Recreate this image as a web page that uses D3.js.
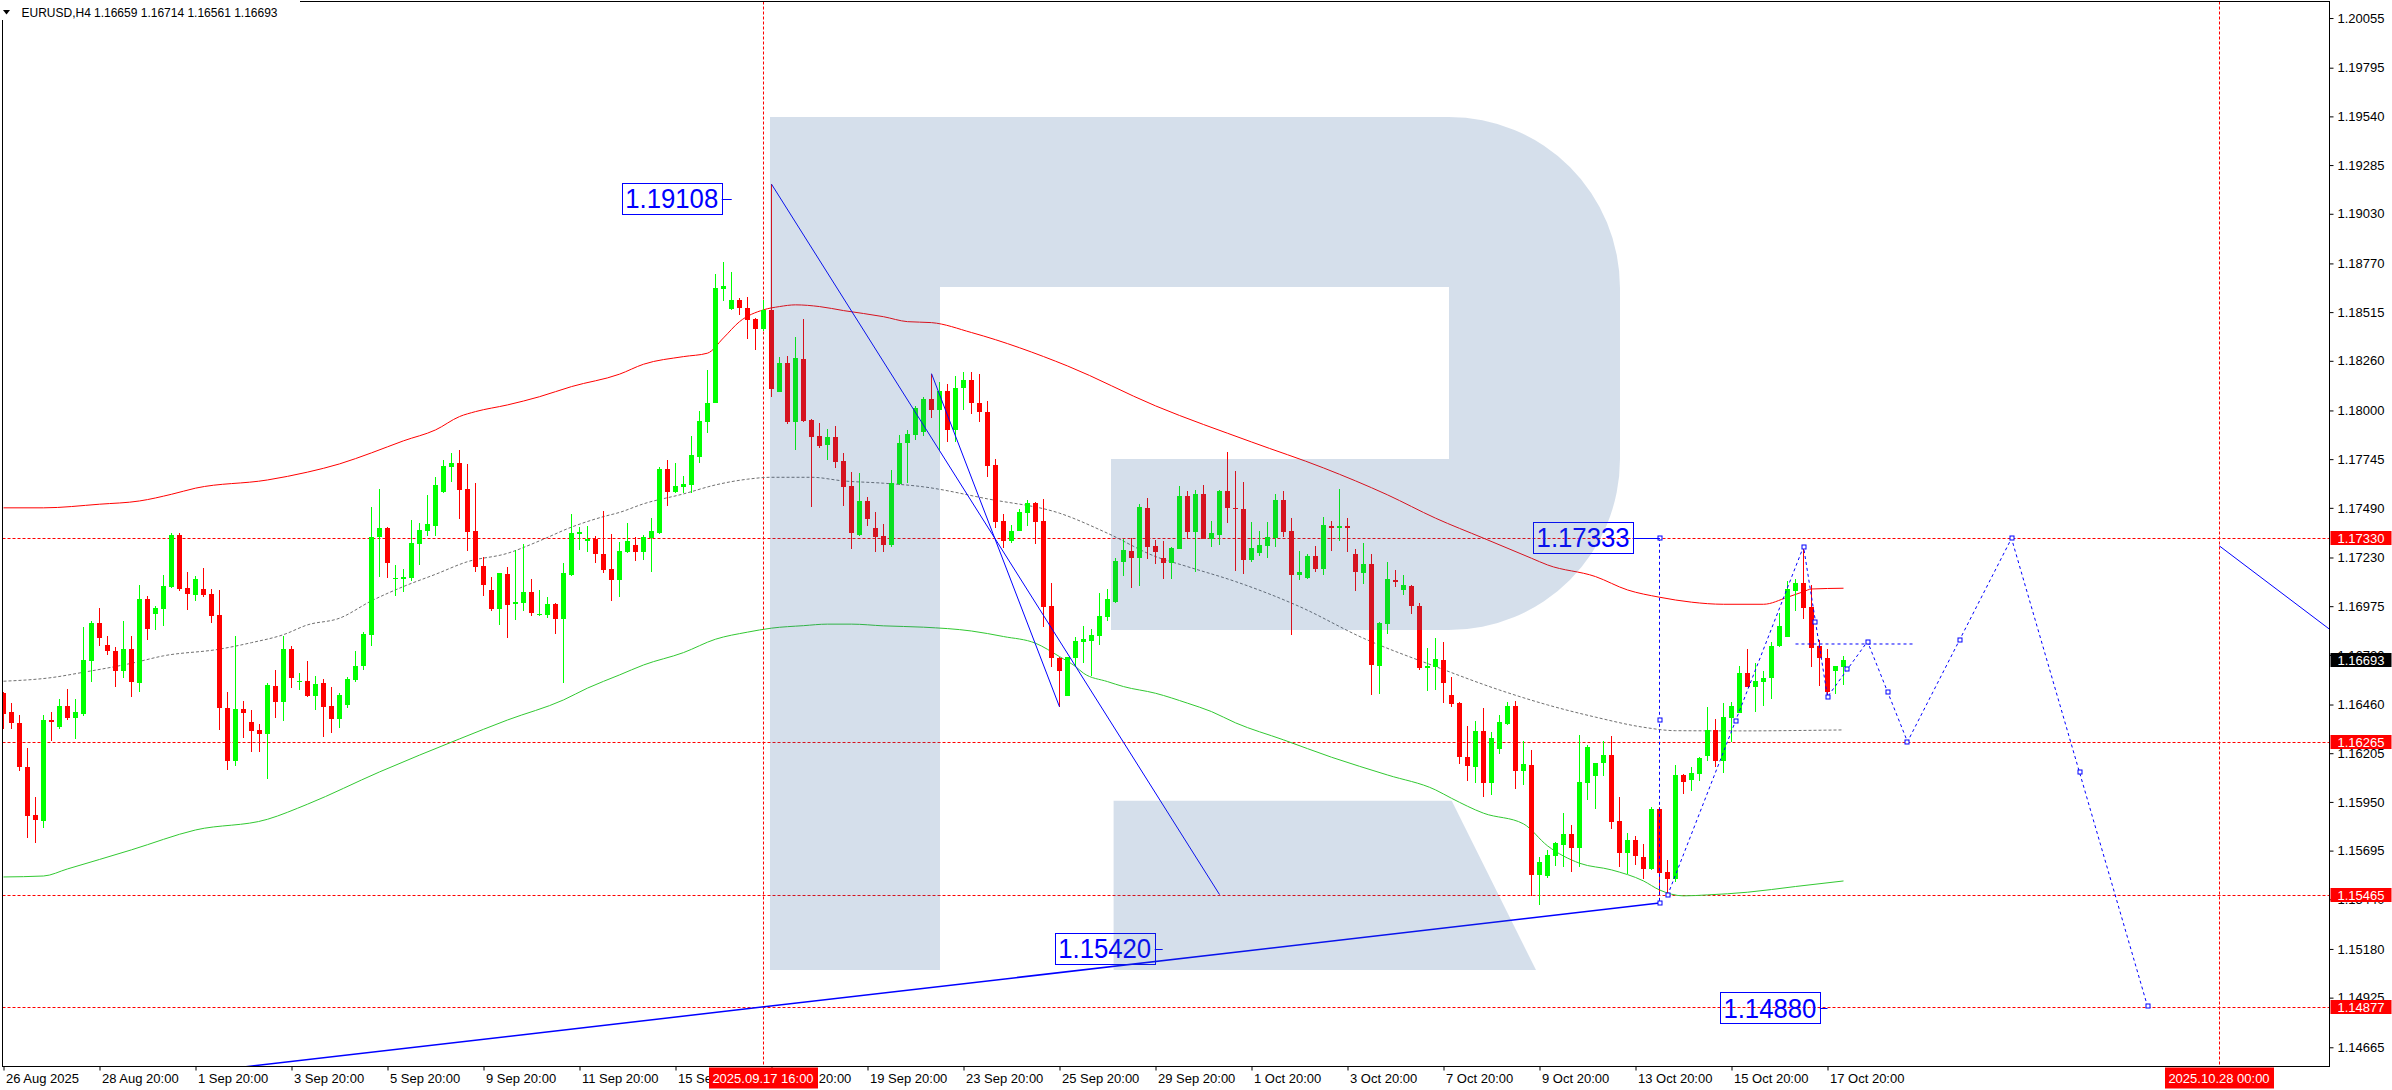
<!DOCTYPE html>
<html><head><meta charset="utf-8">
<script src="https://cdn.jsdelivr.net/npm/d3@7/dist/d3.min.js"></script>
<style>body{margin:0;background:#fff;}svg{display:block;}</style>
</head><body>
<svg id="c" width="2392" height="1090"></svg>
<script>
// ---------- DATA ----------
const opens=[1.16519,1.16419,1.16361,1.16131,1.15881,1.15852,1.16379,1.16342,1.16452,1.16389,1.16412,1.16688,1.16885,1.16772,1.16739,1.16637,1.16749,1.16574,1.17013,1.16936,1.16962,1.17076,1.17346,1.17070,1.17035,1.17065,1.17039,1.16929,1.16442,1.16164,1.16437,1.16368,1.16327,1.16306,1.16557,1.16475,1.16751,1.16576,1.16583,1.16506,1.16571,1.16452,1.16384,1.16457,1.16588,1.16663,1.16824,1.17339,1.17384,1.17117,1.17117,1.17124,1.17302,1.17370,1.17397,1.17575,1.17704,1.17725,1.17589,1.17369,1.17185,1.17060,1.16960,1.17143,1.16985,1.16993,1.17051,1.16929,1.16929,1.16986,1.16908,1.17138,1.17353,1.17318,1.17327,1.17248,1.17170,1.17112,1.17260,1.17295,1.17260,1.17333,1.17359,1.17693,1.17574,1.17600,1.17609,1.17758,1.17941,1.18040,1.18638,1.18529,1.18578,1.18536,1.18479,1.18428,1.18526,1.18098,1.18246,1.17941,1.18267,1.17950,1.17866,1.17819,1.17859,1.17735,1.17604,1.17347,1.17525,1.17387,1.17342,1.17295,1.17613,1.17827,1.17871,1.17885,1.18058,1.18000,1.18100,1.17900,1.18120,1.18160,1.18040,1.17990,1.17714,1.17421,1.17318,1.17370,1.17465,1.17517,1.17421,1.16976,1.16705,1.16504,1.16705,1.16789,1.16792,1.16820,1.16920,1.16995,1.17208,1.17264,1.17229,1.17487,1.17290,1.17225,1.17199,1.17274,1.17552,1.17365,1.17562,1.17327,1.17348,1.17578,1.17487,1.17484,1.17217,1.17255,1.17290,1.17334,1.17531,1.17368,1.17138,1.17121,1.17238,1.17169,1.17395,1.17386,1.17395,1.17248,1.17150,1.17196,1.16661,1.16881,1.17112,1.17059,1.17080,1.16976,1.16653,1.16658,1.16693,1.16509,1.16469,1.16186,1.16134,1.16321,1.16047,1.16227,1.16358,1.16452,1.16113,1.16143,1.15567,1.15561,1.15669,1.15725,1.15782,1.15711,1.16051,1.16088,1.16152,1.16196,1.15850,1.15681,1.15751,1.15664,1.15599,1.15913,1.15585,1.15547,1.16090,1.16065,1.16097,1.16191,1.16324,1.16166,1.16392,1.16418,1.16624,1.16554,1.16580,1.16598,1.16764,1.16811,1.17057,1.17099,1.16970,1.16764,1.16706,1.16638,1.16659];
const highs=[1.16527,1.16466,1.16405,1.16231,1.15974,1.16405,1.16419,1.16489,1.16540,1.16489,1.16866,1.16896,1.16966,1.16819,1.16759,1.16897,1.16819,1.17086,1.17028,1.16976,1.17138,1.17357,1.17357,1.17152,1.17131,1.17173,1.17065,1.17060,1.16526,1.16819,1.16478,1.16431,1.16356,1.16574,1.16641,1.16819,1.16766,1.16627,1.16688,1.16611,1.16592,1.16553,1.16518,1.16606,1.16740,1.16841,1.17496,1.17590,1.17390,1.17191,1.17170,1.17426,1.17409,1.17557,1.17650,1.17741,1.17777,1.17793,1.17720,1.17620,1.17234,1.17129,1.17150,1.17178,1.17269,1.17301,1.17117,1.17060,1.17021,1.16990,1.17203,1.17458,1.17388,1.17395,1.17343,1.17473,1.17353,1.17313,1.17412,1.17335,1.17347,1.17435,1.17705,1.17740,1.17723,1.17656,1.17866,1.17999,1.18212,1.18714,1.18779,1.18727,1.18590,1.18594,1.18482,1.18578,1.19185,1.18282,1.18285,1.18386,1.18479,1.17955,1.17932,1.17901,1.17918,1.17775,1.17679,1.17670,1.17548,1.17466,1.17405,1.17688,1.17871,1.17897,1.18023,1.18072,1.18193,1.18150,1.18140,1.18180,1.18200,1.18200,1.18190,1.18050,1.17746,1.17456,1.17400,1.17482,1.17531,1.17522,1.17536,1.17094,1.16710,1.16710,1.16812,1.16871,1.16854,1.17046,1.17065,1.17229,1.17327,1.17330,1.17510,1.17540,1.17321,1.17316,1.17287,1.17604,1.17578,1.17583,1.17610,1.17421,1.17583,1.17781,1.17683,1.17623,1.17414,1.17368,1.17414,1.17562,1.17578,1.17435,1.17264,1.17248,1.17290,1.17444,1.17423,1.17588,1.17438,1.17274,1.17307,1.17248,1.16894,1.17208,1.17164,1.17138,1.17084,1.16990,1.16754,1.16806,1.16785,1.16602,1.16473,1.16347,1.16375,1.16440,1.16318,1.16405,1.16475,1.16480,1.16268,1.16221,1.15663,1.15698,1.15742,1.15891,1.15829,1.16301,1.16248,1.16156,1.16269,1.16296,1.15978,1.15786,1.15774,1.15730,1.15925,1.15925,1.15646,1.16144,1.16097,1.16131,1.16184,1.16449,1.16383,1.16470,1.16475,1.16664,1.16751,1.16676,1.16636,1.16786,1.16938,1.17109,1.17116,1.17287,1.17087,1.16799,1.16751,1.16664,1.16714];
const lows=[1.16330,1.16330,1.16114,1.15763,1.15733,1.15815,1.16271,1.16333,1.16379,1.16281,1.16400,1.16580,1.16768,1.16721,1.16554,1.16599,1.16501,1.16527,1.16798,1.16850,1.16873,1.17072,1.17056,1.16957,1.17004,1.17025,1.16887,1.16328,1.16119,1.16140,1.16286,1.16213,1.16213,1.16070,1.16391,1.16375,1.16548,1.16536,1.16498,1.16431,1.16292,1.16309,1.16339,1.16443,1.16580,1.16641,1.16766,1.17126,1.17124,1.17030,1.17051,1.17107,1.17191,1.17343,1.17343,1.17570,1.17627,1.17431,1.17266,1.17152,1.17030,1.16951,1.16879,1.16810,1.16903,1.16951,1.16925,1.16925,1.16915,1.16829,1.16571,1.17133,1.17269,1.17261,1.17203,1.17147,1.17004,1.17025,1.17255,1.17213,1.17216,1.17155,1.17351,1.17501,1.17566,1.17566,1.17569,1.17726,1.17880,1.18037,1.18573,1.18526,1.18500,1.18372,1.18316,1.18418,1.18072,1.18095,1.17929,1.17793,1.17941,1.17492,1.17801,1.17740,1.17697,1.17501,1.17277,1.17344,1.17396,1.17257,1.17257,1.17286,1.17609,1.17618,1.17845,1.17866,1.17960,1.17793,1.17837,1.17837,1.18000,1.17980,1.17941,1.17653,1.17383,1.17278,1.17307,1.17369,1.17395,1.17300,1.16867,1.16658,1.16448,1.16504,1.16658,1.16679,1.16609,1.16771,1.16897,1.16990,1.17135,1.17072,1.17082,1.17220,1.17194,1.17117,1.17115,1.17273,1.17325,1.17156,1.17327,1.17287,1.17295,1.17412,1.17160,1.17143,1.17208,1.17238,1.17229,1.17286,1.17339,1.16824,1.17112,1.17117,1.17155,1.17138,1.17264,1.17318,1.17260,1.17054,1.17091,1.16509,1.16515,1.16829,1.17077,1.17033,1.16934,1.16640,1.16530,1.16536,1.16469,1.16448,1.16148,1.16061,1.16047,1.15977,1.15986,1.16200,1.16352,1.16017,1.16038,1.15457,1.15409,1.15554,1.15616,1.15611,1.15585,1.15611,1.15960,1.15912,1.16088,1.15809,1.15611,1.15571,1.15620,1.15545,1.15594,1.15458,1.15463,1.15533,1.15992,1.16009,1.16062,1.16166,1.16131,1.16100,1.16266,1.16414,1.16551,1.16420,1.16452,1.16489,1.16760,1.16811,1.16952,1.16908,1.16659,1.16559,1.16510,1.16514,1.16561];
const closes=[1.16410,1.16361,1.16134,1.15878,1.15855,1.16379,1.16370,1.16452,1.16389,1.16421,1.16693,1.16885,1.16810,1.16742,1.16637,1.16749,1.16580,1.17013,1.16856,1.16966,1.17081,1.17346,1.17065,1.17041,1.17117,1.17035,1.16925,1.16444,1.16164,1.16437,1.16417,1.16323,1.16306,1.16562,1.16475,1.16751,1.16601,1.16583,1.16505,1.16567,1.16449,1.16384,1.16510,1.16594,1.16662,1.16829,1.17339,1.17384,1.17203,1.17123,1.17126,1.17306,1.17374,1.17405,1.17610,1.17709,1.17725,1.17585,1.17365,1.17182,1.17086,1.16960,1.17147,1.16981,1.16995,1.17051,1.16941,1.16934,1.16986,1.16908,1.17150,1.17357,1.17364,1.17329,1.17248,1.17164,1.17112,1.17264,1.17318,1.17260,1.17335,1.17368,1.17693,1.17574,1.17604,1.17614,1.17766,1.17944,1.18037,1.18643,1.18652,1.18578,1.18535,1.18474,1.18428,1.18526,1.18114,1.18246,1.17941,1.18276,1.17946,1.17862,1.17815,1.17859,1.17731,1.17600,1.17356,1.17525,1.17429,1.17339,1.17295,1.17618,1.17827,1.17875,1.18011,1.18058,1.18000,1.18100,1.17900,1.18120,1.18160,1.18040,1.17990,1.17711,1.17417,1.17318,1.17369,1.17470,1.17517,1.17417,1.16972,1.16702,1.16637,1.16707,1.16792,1.16803,1.16824,1.16923,1.17012,1.17211,1.17269,1.17229,1.17493,1.17287,1.17260,1.17203,1.17278,1.17552,1.17365,1.17562,1.17327,1.17356,1.17580,1.17491,1.17482,1.17217,1.17278,1.17295,1.17335,1.17531,1.17365,1.17138,1.17155,1.17238,1.17169,1.17400,1.17386,1.17395,1.17386,1.17155,1.17196,1.16667,1.16888,1.17117,1.17103,1.17086,1.16976,1.16649,1.16661,1.16696,1.16571,1.16462,1.16183,1.16139,1.16321,1.16047,1.16286,1.16366,1.16452,1.16113,1.16148,1.15567,1.15636,1.15671,1.15733,1.15782,1.15711,1.16053,1.16240,1.16152,1.16196,1.15847,1.15681,1.15751,1.15669,1.15599,1.15913,1.15580,1.15547,1.16090,1.16056,1.16104,1.16182,1.16324,1.16166,1.16393,1.16453,1.16624,1.16554,1.16584,1.16601,1.16767,1.16872,1.17064,1.17099,1.16968,1.16758,1.16702,1.16523,1.16662,1.16693];

// indicator bands, sampled [bar, price]
const upperBand=[[0,1.17490],[5,1.17490],[12,1.17509],[17,1.17526],[21,1.17561],[24,1.17593],[33,1.17636],[38,1.17677],[42,1.17720],[46,1.17778],[50,1.17841],[54,1.17898],[57,1.17968],[59,1.17994],[63,1.18029],[67,1.18072],[71,1.18125],[77,1.18190],[80,1.18242],[85,1.18282],[88,1.18300],[90,1.18380],[92,1.18465],[95,1.18527],[97,1.18544],[99,1.18553],[102,1.18544],[105,1.18523],[110,1.18491],[113,1.18465],[116,1.18460],[121,1.18408],[133,1.18233],[144,1.18024],[156,1.17835],[165,1.17699],[173,1.17558],[179,1.17436],[185,1.17331],[191,1.17226],[193,1.17191],[199,1.17130],[203,1.17060],[207,1.17022],[211,1.16996],[215,1.16985],[220,1.16985],[223,1.17022],[225,1.17051],[226,1.17065],[230,1.17069]];
const middleBand=[[0,1.16582],[6,1.16601],[10,1.16629],[16,1.16676],[20,1.16715],[27,1.16750],[31,1.16784],[35,1.16826],[38,1.16877],[42,1.16912],[46,1.17003],[50,1.17078],[54,1.17142],[58,1.17208],[63,1.17252],[67,1.17317],[71,1.17389],[75,1.17444],[77,1.17466],[80,1.17511],[85,1.17563],[89,1.17610],[93,1.17640],[96,1.17650],[101,1.17650],[105,1.17631],[110,1.17619],[115,1.17600],[123,1.17537],[132,1.17462],[138,1.17357],[144,1.17235],[148,1.17182],[154,1.17104],[162,1.16973],[170,1.16807],[179,1.16659],[187,1.16536],[193,1.16458],[199,1.16394],[205,1.16341],[209,1.16323],[217,1.16322],[230,1.16327]];
const lowerBand=[[0,1.15557],[5,1.15562],[8,1.15599],[16,1.15699],[24,1.15803],[33,1.15859],[38,1.15938],[47,1.16107],[57,1.16280],[63,1.16379],[70,1.16484],[73,1.16546],[77,1.16615],[80,1.16667],[85,1.16732],[89,1.16802],[93,1.16839],[96,1.16860],[100,1.16873],[103,1.16881],[106,1.16881],[110,1.16872],[115,1.16865],[121,1.16845],[125,1.16816],[129,1.16781],[132,1.16711],[134,1.16659],[135,1.16624],[138,1.16580],[140,1.16554],[144,1.16519],[148,1.16467],[151,1.16423],[154,1.16364],[160,1.16275],[166,1.16184],[173,1.16091],[179,1.16013],[181,1.15969],[185,1.15891],[190,1.15835],[193,1.15720],[197,1.15629],[201,1.15594],[205,1.15536],[207,1.15489],[210,1.15458],[213,1.15463],[218,1.15477],[224,1.15507],[230,1.15536]];

const priceTicks=[1.20055,1.19795,1.19540,1.19285,1.19030,1.18770,1.18515,1.18260,1.18000,1.17745,1.17490,1.17230,1.16975,1.16720,1.16460,1.16205,1.15950,1.15695,1.15440,1.15180,1.14925,1.14665];
const dateBars=[0,12,24,36,48,60,72,84,96,108,120,132,144,156,168,180,192,204,216,228];
const dateLabels=["26 Aug 2025","28 Aug 20:00","1 Sep 20:00","3 Sep 20:00","5 Sep 20:00","9 Sep 20:00","11 Sep 20:00","15 Sep 20:00","17 Sep 20:00","19 Sep 20:00","23 Sep 20:00","25 Sep 20:00","29 Sep 20:00","1 Oct 20:00","3 Oct 20:00","7 Oct 20:00","9 Oct 20:00","13 Oct 20:00","15 Oct 20:00","17 Oct 20:00"];

const levelPrices=[1.17330,1.16265,1.15465,1.14877];
const markerBars=[95,277];
const markerLabels=["2025.09.17 16:00","2025.10.28 00:00"];
const lastPrice=1.16693;

// blue trend lines [bar, price] pairs
const trendLines=[[[96,1.19185],[152,1.15465]],[[116,1.18193],[132,1.16448]],[[277,1.17290],[290.7,1.16856]]];
const supportLine=[[29.1,1.14557],[207,1.15420]];
// forecast path
const forecastBars=[208,225,228,233,238,251,268];
const forecastPrices=[1.15460,1.17287,1.16500,1.16790,1.16265,1.17330,1.14880];
const rangeLine=[[207,1.17333],[207,1.15420]];
const flatLine=[[224,1.16777],[239,1.16777]];
// price boxes: text, bar at box right edge, bar at connector end, price
const boxTexts=["1.19108","1.17333","1.15420","1.14880"];
const boxRight=[89.78,203.7,143.9,227.05];
const boxLineEnd=[91.03,207.06,144.9,228.0];
const boxPrices=[1.19108,1.17333,1.15181,1.14870];

// ---------- DRAW ----------
const svg=d3.select('#c');
const FONT='"Liberation Sans", Arial, sans-serif';
const L=2.5,T=1.5,R=2329.5,B=1066.5;
const x=d3.scaleLinear().domain([0,290]).range([3.5,2323.5]);
const y=d3.scaleLinear().domain([1.14567,1.20139]).range([1066,2]);

svg.append('rect').attr('width',2392).attr('height',1090).attr('fill','#fff');
svg.append('defs').append('clipPath').attr('id','clip').append('rect')
  .attr('x',L).attr('y',T).attr('width',R-L).attr('height',B-T);
const g=svg.append('g').attr('clip-path','url(#clip)');

// level lines
g.selectAll('.lvl').data(levelPrices).join('line')
  .attr('x1',L).attr('x2',R).attr('y1',d=>Math.round(y(d))+0.5).attr('y2',d=>Math.round(y(d))+0.5)
  .attr('stroke','#ff0000').attr('stroke-dasharray','3,2');
g.selectAll('.vmk').data(markerBars).join('line')
  .attr('x1',d=>Math.round(x(d))-0.5).attr('x2',d=>Math.round(x(d))-0.5).attr('y1',T).attr('y2',B)
  .attr('stroke','#ff0000').attr('stroke-dasharray','3,2');

// bands
const ln=d3.line().x(d=>x(d[0])).y(d=>y(d[1])).curve(d3.curveMonotoneX);
g.append('path').attr('d',ln(upperBand)).attr('fill','none').attr('stroke','#ff0000').attr('stroke-width',1);
g.append('path').attr('d',ln(middleBand)).attr('fill','none').attr('stroke','#707070').attr('stroke-width',1).attr('stroke-dasharray','3,2');
g.append('path').attr('d',ln(lowerBand)).attr('fill','none').attr('stroke','#32c832').attr('stroke-width',1);

// candles
const idx=d3.range(opens.length);
const cg=g.append('g').attr('shape-rendering','crispEdges');
cg.selectAll('.w').data(idx).join('rect')
  .attr('x',i=>x(i)-0.5).attr('width',1)
  .attr('y',i=>Math.round(y(highs[i]))).attr('height',i=>Math.max(1,Math.round(y(lows[i]))-Math.round(y(highs[i]))))
  .attr('fill',i=>closes[i]>=opens[i]?'#00ff00':'#ff0000');
cg.selectAll('.b').data(idx).join('rect')
  .attr('x',i=>x(i)-2.5).attr('width',5)
  .attr('y',i=>Math.round(y(Math.max(opens[i],closes[i]))))
  .attr('height',i=>Math.max(1,Math.round(y(Math.min(opens[i],closes[i])))-Math.round(y(Math.max(opens[i],closes[i])))))
  .attr('fill',i=>closes[i]>=opens[i]?'#00ff00':'#ff0000');

// blue lines
const sl=d3.line().x(d=>x(d[0])).y(d=>y(d[1]));
trendLines.forEach(t=>g.append('path').attr('d',sl(t)).attr('fill','none').attr('stroke','#0000ff').attr('stroke-width',1));
g.append('path').attr('d',sl(supportLine)).attr('fill','none').attr('stroke','#0000ff').attr('stroke-width',1.5);
const fpts=forecastBars.map((b,i)=>[b,forecastPrices[i]]);
g.append('path').attr('d',sl(fpts)).attr('fill','none').attr('stroke','#0000ff').attr('stroke-dasharray','3,3');
g.append('path').attr('d',sl(rangeLine)).attr('fill','none').attr('stroke','#0000ff').attr('stroke-dasharray','3,3');
g.append('path').attr('d',sl(flatLine)).attr('fill','none').attr('stroke','#0000ff').attr('stroke-dasharray','3,3');
// anchor squares
const anchors=[];
for(let i=0;i<fpts.length;i++){anchors.push(fpts[i]); if(i<fpts.length-1) anchors.push([(fpts[i][0]+fpts[i+1][0])/2,(fpts[i][1]+fpts[i+1][1])/2]);}
anchors.push(rangeLine[0],rangeLine[1],[rangeLine[0][0],(rangeLine[0][1]+rangeLine[1][1])/2]);
g.selectAll('.anc').data(anchors).join('rect')
  .attr('x',d=>Math.round(x(d[0]))-2).attr('y',d=>Math.round(y(d[1]))-2).attr('width',4).attr('height',4)
  .attr('fill','#fff').attr('stroke','#0000ff').attr('stroke-width',1);

// price boxes
boxTexts.forEach((t,i)=>{
  const xr=x(boxRight[i]), xe=x(boxLineEnd[i]), yc=y(boxPrices[i]);
  g.append('line').attr('x1',xr).attr('x2',xe).attr('y1',Math.round(yc)+0.5).attr('y2',Math.round(yc)+0.5).attr('stroke','#0000ff');
  g.append('rect').attr('x',Math.round(xr-100)+0.5).attr('y',Math.round(yc-16)+0.5).attr('width',100).attr('height',31)
    .attr('fill','none').attr('stroke','#0000ff');
  g.append('text').attr('x',xr-50).attr('y',yc+9.5).attr('text-anchor','middle')
    .attr('font-family',FONT).attr('font-size',27).attr('fill','#0000ff')
    .attr('textLength',93).attr('lengthAdjust','spacingAndGlyphs').text(t);
});

// watermark logo overlay
const logo='M770,117 H940 V970 H770 Z '+
 'M940,117 H1449 A171,171 0 0 1 1620,288 V459 A171,171 0 0 1 1449,630 H1111 V459 H1449 V287 H940 Z '+
 'M1113.6,800.7 H1451.7 L1536,970 H1113.6 Z';
g.append('path').attr('d',logo).attr('fill','rgb(45,95,155)').attr('fill-opacity',0.2);

// border
svg.append('rect').attr('x',L).attr('y',T).attr('width',R-L).attr('height',B-T)
  .attr('fill','none').attr('stroke','#000').attr('shape-rendering','crispEdges');

// axes
const ya=d3.axisRight(y).tickValues(priceTicks).tickFormat(d=>d.toFixed(5)).tickSize(4).tickPadding(4);
svg.append('g').attr('transform',`translate(${R},0)`).call(ya)
  .call(a=>a.select('.domain').remove())
  .call(a=>a.selectAll('line').attr('stroke','#000'))
  .call(a=>a.selectAll('text').attr('font-family',FONT).attr('font-size',13).attr('fill','#000'));
const xa=d3.axisBottom(x).tickValues(dateBars).tickFormat((d,i)=>dateLabels[i]).tickSize(4).tickPadding(3);
svg.append('g').attr('transform',`translate(0,${B})`).call(xa)
  .call(a=>a.select('.domain').remove())
  .call(a=>a.selectAll('line').attr('stroke','#000'))
  .call(a=>a.selectAll('text').attr('font-family',FONT).attr('font-size',13).attr('fill','#000')
      .attr('text-anchor','start').attr('x',2));

// right-axis price tags
const tags=levelPrices.map(p=>({p,bg:'#ff0000'})).concat([{p:lastPrice,bg:'#000000'}]);
tags.forEach(tg=>{
  const yc=Math.round(y(tg.p));
  svg.append('rect').attr('x',R+1).attr('y',yc-7).attr('width',61).attr('height',14).attr('fill',tg.bg);
  svg.append('text').attr('x',R+8).attr('y',yc+4.5).attr('font-family',FONT).attr('font-size',13)
    .attr('fill','#fff').text(tg.p.toFixed(5));
});
// date tags
markerBars.forEach((b,i)=>{
  const xc=Math.round(x(b));
  svg.append('rect').attr('x',xc-55).attr('y',B+1).attr('width',109).attr('height',21).attr('fill','#ff0000');
  svg.append('text').attr('x',xc-1).attr('y',B+16).attr('text-anchor','middle').attr('font-family',FONT)
    .attr('font-size',13).attr('fill','#fff').text(markerLabels[i]);
});

// header
svg.append('rect').attr('x',0).attr('y',0).attr('width',300).attr('height',20).attr('fill','#fff');
svg.append('path').attr('d','M3,10 L10,10 L6.5,14.5 Z').attr('fill','#000');
svg.append('text').attr('x',21.5).attr('y',16.5).attr('font-family',FONT).attr('font-size',12).attr('fill','#000').text('EURUSD,H4');
svg.append('text').attr('x',94).attr('y',16.5).attr('font-family',FONT).attr('font-size',12).attr('fill','#000')
  .text([opens[230],highs[230],lows[230],closes[230]].map(v=>v.toFixed(5)).join(' '));
</script>
</body></html>
